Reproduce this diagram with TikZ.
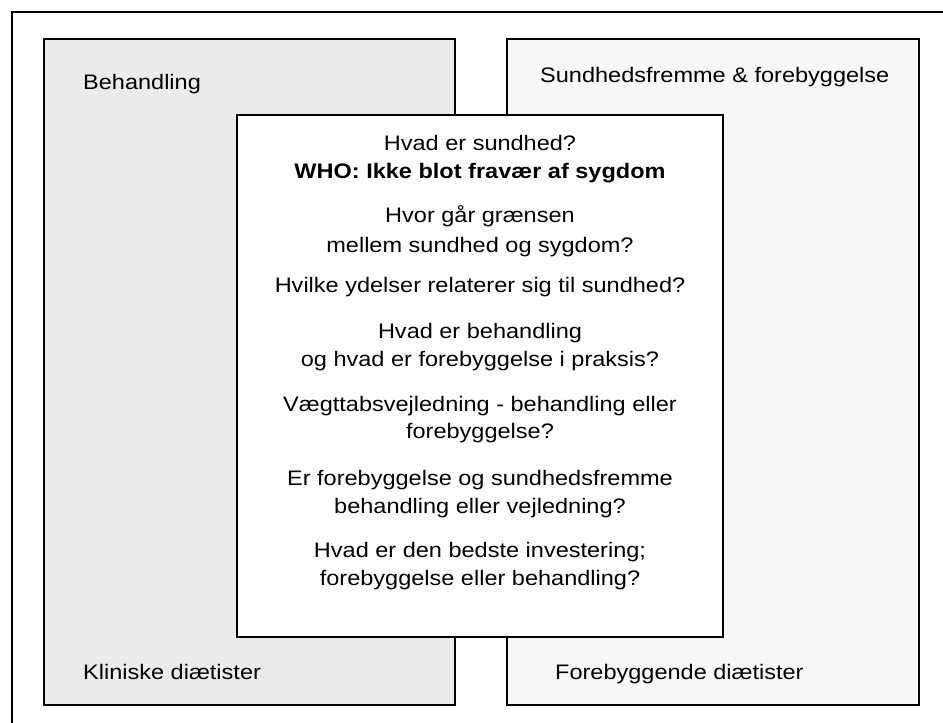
\documentclass[tikz,border=0pt]{standalone}
\usepackage{fontspec}
\setmainfont{Liberation Sans}[FakeStretch=1.12]
\begin{document}
\begin{tikzpicture}[x=1pt,y=-1pt,
  txt/.style={inner sep=0pt,anchor=base,font=\fontsize{21}{26}\selectfont},
  lbl/.style={inner sep=0pt,anchor=base west,font=\fontsize{21}{26}\selectfont},
  sidebox/.style={draw=black,line width=1.4pt},
  qbox/.style={draw=black,fill=white,line width=1.4pt}]
\useasboundingbox (0,0) rectangle (943,723);
\fill[white] (0,0) rectangle (943,723);
% outer frame (only left and top edges visible)
\draw[line width=2.2pt] (12,723) -- (12,12) -- (943,12);
% side boxes
\filldraw[sidebox,fill=black!8] (44,39) rectangle (455,705);
\filldraw[sidebox,fill=black!3] (507,39) rectangle (919,705);
% centre box
\filldraw[qbox] (237,115) rectangle (723,637);
% corner labels
\node[lbl] (behandling) at (83,89) {Behandling};
\node[lbl] (klinisk) at (83,679) {Kliniske diætister};
\node[lbl] (sundfrem) at (540,82) {Sundhedsfremme \& forebyggelse};
\node[lbl] (forebyg) at (555,679) {Forebyggende diætister};
% questions
\node[txt] (l1) at (480,150) {Hvad er sundhed?};
\node[txt,font=\fontsize{21}{26}\selectfont\bfseries] (l2) at (480,178) {WHO: Ikke blot fravær af sygdom};
\node[txt] (l3) at (480,222) {Hvor går grænsen};
\node[txt] (l4) at (480,252) {mellem sundhed og sygdom?};
\node[txt] (l5) at (480,292) {Hvilke ydelser relaterer sig til sundhed?};
\node[txt] (l6) at (480,338) {Hvad er behandling};
\node[txt] (l7) at (480,366) {og hvad er forebyggelse i praksis?};
\node[txt] (l8) at (480,411) {Vægttabsvejledning - behandling eller};
\node[txt] (l9) at (480,438) {forebyggelse?};
\node[txt] (l10) at (480,485) {Er forebyggelse og sundhedsfremme};
\node[txt] (l11) at (480,513) {behandling eller vejledning?};
\node[txt] (l12) at (480,557) {Hvad er den bedste investering;};
\node[txt] (l13) at (480,585) {forebyggelse eller behandling?};
\end{tikzpicture}
\end{document}
